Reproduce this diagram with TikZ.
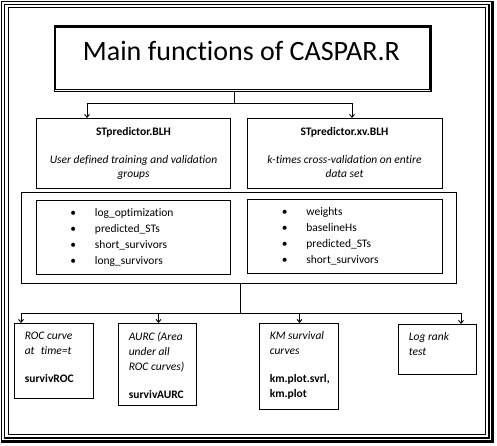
\documentclass[tikz,border=0pt]{standalone}
\usepackage{fontspec}
\setmainfont{Carlito}[Ligatures={NoCommon}]
\usetikzlibrary{arrows.meta,calc}
\newcommand\bulit{\makebox[0pt][c]{\textbullet}\hspace{21.7pt}}
\begin{document}
\begin{tikzpicture}[x=1pt,y=-1pt,line width=1pt,
  box/.style={draw,line width=1pt,rectangle,inner sep=0pt,anchor=north west},
  txt/.style={inner sep=0pt,font=\fontsize{11.5}{14}\selectfont},
  lst/.style={inner sep=0pt,align=left,anchor=north west,font=\fontsize{11.5}{16}\selectfont},
  bot/.style={inner sep=0pt,align=left,anchor=north west,font=\fontsize{11.5}{15}\selectfont},
  arr/.style={-{Straight Barb[length=3pt,width=5pt]},line width=0.9pt}]
\useasboundingbox (0,0) rectangle (497,446);
% outer frame
\draw[line width=1pt] (1.5,442) -- (1.5,1.5) -- (492.5,1.5);
\draw[line width=2.3pt] (492.5,1) -- (492.5,441.5) -- (1,441.5);
\draw[line width=1pt] (4.5,438) -- (4.5,4.5) -- (489,4.5);
\draw[line width=2pt] (489,4) -- (489,438) -- (4,438);
\draw[line width=1pt] (8,8) rectangle (485.8,434.8);
% title
\node[box,line width=1.5pt,minimum width=376.5pt,minimum height=65.5pt] (title) at (53.5,25.5) {};
\draw[line width=1pt] ([shift={(2,2.5)}]title.north west) rectangle ([shift={(-2,-2.5)}]title.south east);
\node[anchor=base,inner sep=0pt,font=\fontsize{28}{30}\selectfont] (titletext) at (241.5,61) {Main functions of CASPAR.R};
% second level
\node[box,minimum width=194pt,minimum height=70pt] (blh) at (36,118) {};
\node[box,minimum width=195pt,minimum height=70pt] (xv) at (247,118) {};
\node[txt,anchor=north,align=center] (blhtxt) at (133.5,126.5) {\textbf{STpredictor.BLH}\\[14pt]\textit{User defined training and validation}\\\textit{groups}};
\node[txt,anchor=north,align=center] (xvtxt) at (344.5,126.5) {\textbf{STpredictor.xv.BLH}\\[14pt]\textit{k-times cross-validation on entire}\\\textit{data set}};
% container with outputs
\node[box,minimum width=435pt,minimum height=91pt] (cont) at (21,192) {};
\node[box,minimum width=194pt,minimum height=74pt] (lo) at (36,200) {};
\node[box,minimum width=195pt,minimum height=74pt] (ro) at (247,199) {};
\node[lst] (lotxt) at (72.8,208) {\bulit log\_optimization\\\bulit predicted\_STs\\\bulit short\_survivors\\\bulit long\_survivors};
\node[lst] (rotxt) at (284.2,207) {\bulit weights\\\bulit baselineHs\\\bulit predicted\_STs\\\bulit short\_survivors};
% bottom boxes
\node[box,minimum width=79pt,minimum height=75pt] (roc) at (14,323) {};
\node[box,minimum width=78pt,minimum height=82pt] (aurc) at (118,323) {};
\node[box,minimum width=79pt,minimum height=86pt] (km) at (259,323) {};
\node[box,minimum width=78pt,minimum height=50pt] (lr) at (398,324) {};
\node[bot] (roctxt) at (24.3,331.2) {\textit{ROC curve}\\\textit{at\hspace{0.55em}time=t}\\[13pt]\textbf{survivROC}};
\node[bot] (aurctxt) at (128.3,331.2) {\textit{AURC (Area}\\\textit{under all}\\\textit{ROC curves)}\\[13pt]\textbf{survivAURC}};
\node[bot] (kmtxt) at (269.3,331.2) {\textit{KM survival}\\\textit{curves}\\[13pt]\textbf{km.plot.svrl,}\\\textbf{km.plot}};
\node[bot] (lrtxt) at (408.3,332.2) {\textit{Log rank}\\\textit{test}};
% connectors
\coordinate (tj) at ($(title.south)+(-8,11)$);
\draw (title.south -| tj) -- (tj);
\draw[arr] (tj) -| ($(blh.north west)+(51,0)$);
\draw[arr] (tj) -| ($(xv.north west)+(105,0)$);
\coordinate (bj) at ($(cont.south)+(1.5,29)$);
\draw (cont.south -| bj) -- (bj);
\draw[arr] (bj) -| ($(roc.north west)+(7,0)$);
\draw[arr] (bj) -| ($(aurc.north)+(1,0)$);
\draw[arr] (bj) -| ($(km.north)+(0.5,0)$);
\draw[arr] (bj) -| ($(lr.north west)+(63,0)$);
\end{tikzpicture}
\end{document}
